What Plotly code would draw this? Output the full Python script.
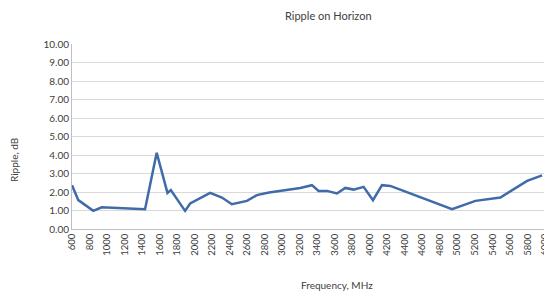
import plotly.graph_objects as go

freq_mhz = [600, 672, 843, 939, 1434, 1567, 1690, 1728, 1891, 1949, 2177, 2311, 2425,
            2597, 2711, 2850, 3206, 3339, 3415, 3511, 3625, 3720, 3815, 3929, 4036,
            4139, 4234, 4939, 5206, 5491, 5796, 5967]
ripple_db = [2.37, 1.56, 0.98, 1.17, 1.07, 4.12, 1.95, 2.10, 0.98, 1.38, 1.95, 1.70, 1.34,
             1.52, 1.83, 1.97, 2.22, 2.37, 2.06, 2.06, 1.92, 2.22, 2.13, 2.28, 1.56,
             2.37, 2.33, 1.07, 1.52, 1.70, 2.60, 2.90]
x_ticks = list(range(600, 6001, 200))
y_ticks = [i * 1.0 for i in range(0, 11)]

font = "Lato, Open Sans, sans-serif"
OFF = 8  # page body margin
W, H = 552 - OFF, 301 - OFF
L, R, T = 72 - OFF, 7, 44 - OFF
B = H - T - 185
fig = go.Figure(go.Scatter(x=freq_mhz, y=ripple_db, mode="lines",
                           line=dict(color="#3F6BA8", width=2.5), showlegend=False))
pw, ph = W - L - R, H - T - B


def px2paper(px, py):
    px -= OFF
    py -= OFF
    return (px - L) / pw, (H - B - py) / ph


anns = []
for text, px, py, ang, sz in [("Ripple on Horizon", 328, 15, 0, 11),
                              ("Frequency, MHz", 337, 285, 0, 10),
                              ("Ripple, dB", 14, 160, -90, 10)]:
    x, y = px2paper(px, py)
    anns.append(dict(text=text, x=x, y=y, xref="paper", yref="paper", showarrow=False,
                     xanchor="center", yanchor="middle",
                     textangle=ang, font=dict(size=sz, color="#404040")))

fig.update_layout(
    width=W, height=H,
    margin=dict(l=L, r=R, t=T, b=B, autoexpand=False),
    paper_bgcolor="white", plot_bgcolor="white",
    font=dict(family=font, size=10, color="#404040"),
    annotations=anns,
)
fig.update_xaxes(range=[600, 6000], tickmode="array", tickvals=x_ticks,
                 ticktext=[str(v) for v in x_ticks], tickangle=-90, automargin=False,
                 showgrid=False, showline=True, linecolor="#BFBFBF", linewidth=1,
                 ticks="", zeroline=False, tickfont=dict(size=9.5, color="#404040"))
fig.update_yaxes(range=[0, 10], tickmode="array", tickvals=y_ticks,
                 ticktext=[f"{v:.2f}" for v in y_ticks], automargin=False,
                 showgrid=True, gridcolor="#D9D9D9", gridwidth=1,
                 showline=True, linecolor="#BFBFBF", linewidth=1,
                 ticks="", zeroline=False, tickfont=dict(size=10, color="#404040"))
fig.write_html("out.html")
